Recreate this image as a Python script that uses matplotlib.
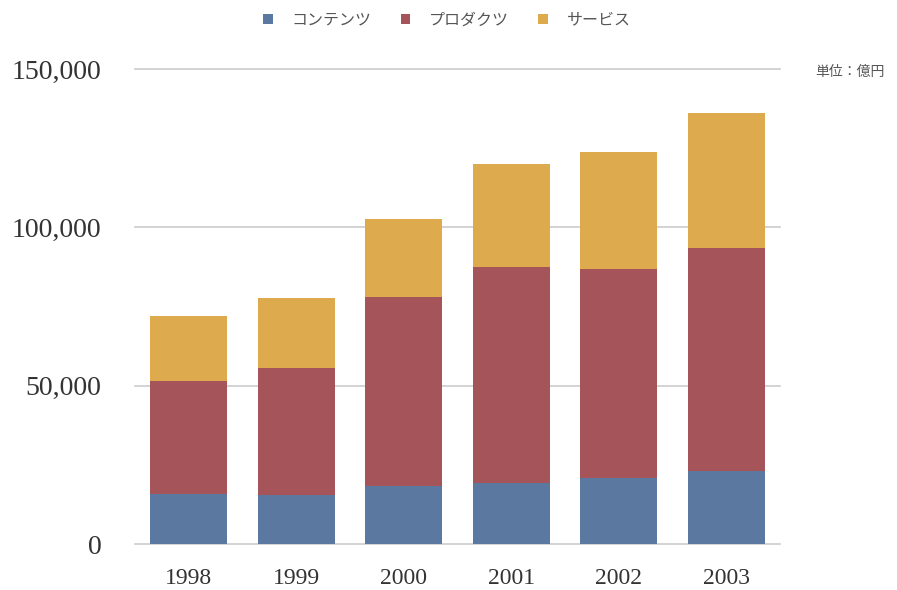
import matplotlib
matplotlib.use("Agg")
import matplotlib.pyplot as plt
import numpy as np

years = ["1998", "1999", "2000", "2001", "2002", "2003"]
contents = [15800, 15600, 18300, 19300, 20900, 22900]
products = [35700, 39900, 59700, 68100, 65800, 70600]
services = [20600, 22200, 24600, 32700, 37000, 42500]
series_names = ["コンテンツ", "プロダクツ", "サービス"]
colors = ["#5b78a0", "#a5545a", "#deaa4e"]
yticks = [0, 50000, 100000, 150000]

jp = ["Noto Sans CJK JP", "DejaVu Sans"]
serif = ["Liberation Serif", "DejaVu Serif"]

fig = plt.figure(figsize=(8.97, 5.9), dpi=100)
ax = fig.add_axes([135/897, 46/590, 645/897, 475/590])

x = np.arange(len(years))
w = 0.72
b1 = ax.bar(x, contents, w, color=colors[0], label=series_names[0], zorder=3)
bottom2 = np.array(contents)
b2 = ax.bar(x, products, w, bottom=bottom2, color=colors[1], label=series_names[1], zorder=3)
bottom3 = bottom2 + np.array(products)
b3 = ax.bar(x, services, w, bottom=bottom3, color=colors[2], label=series_names[2], zorder=3)

ax.set_xlim(-0.5, len(years) - 0.5)
ax.set_ylim(0, 150000)
ax.set_yticks(yticks)
ax.set_yticklabels([f"{v:,}" for v in yticks], fontfamily=serif, fontsize=20, color="#333333")
ax.set_xticks(x)
ax.set_xticklabels(years, fontfamily=serif, fontsize=17, color="#333333")
ax.tick_params(axis="y", length=0, pad=24)
ax.tick_params(axis="x", length=0, pad=17)

for v in yticks:
    ax.axhline(v, color="#cccccc", linewidth=1.2, zorder=1, clip_on=False)

for s in ax.spines.values():
    s.set_visible(False)

leg = fig.legend(handles=[b1, b2, b3], labels=series_names, loc="center",
                 bbox_to_anchor=(447/897, 1 - 20/590), ncol=3, frameon=False,
                 prop={"family": jp, "size": 11.5}, handlelength=0.6, handleheight=0.6,
                 columnspacing=1.8, handletextpad=1.2)
for t in leg.get_texts():
    t.set_color("#555555")

fig.text(850/897, 1 - 72/590, "単位：億円", ha="center", va="center",
         fontfamily=jp, fontsize=10, color="#555555")

fig.savefig("out.png", dpi=100, facecolor="white")
